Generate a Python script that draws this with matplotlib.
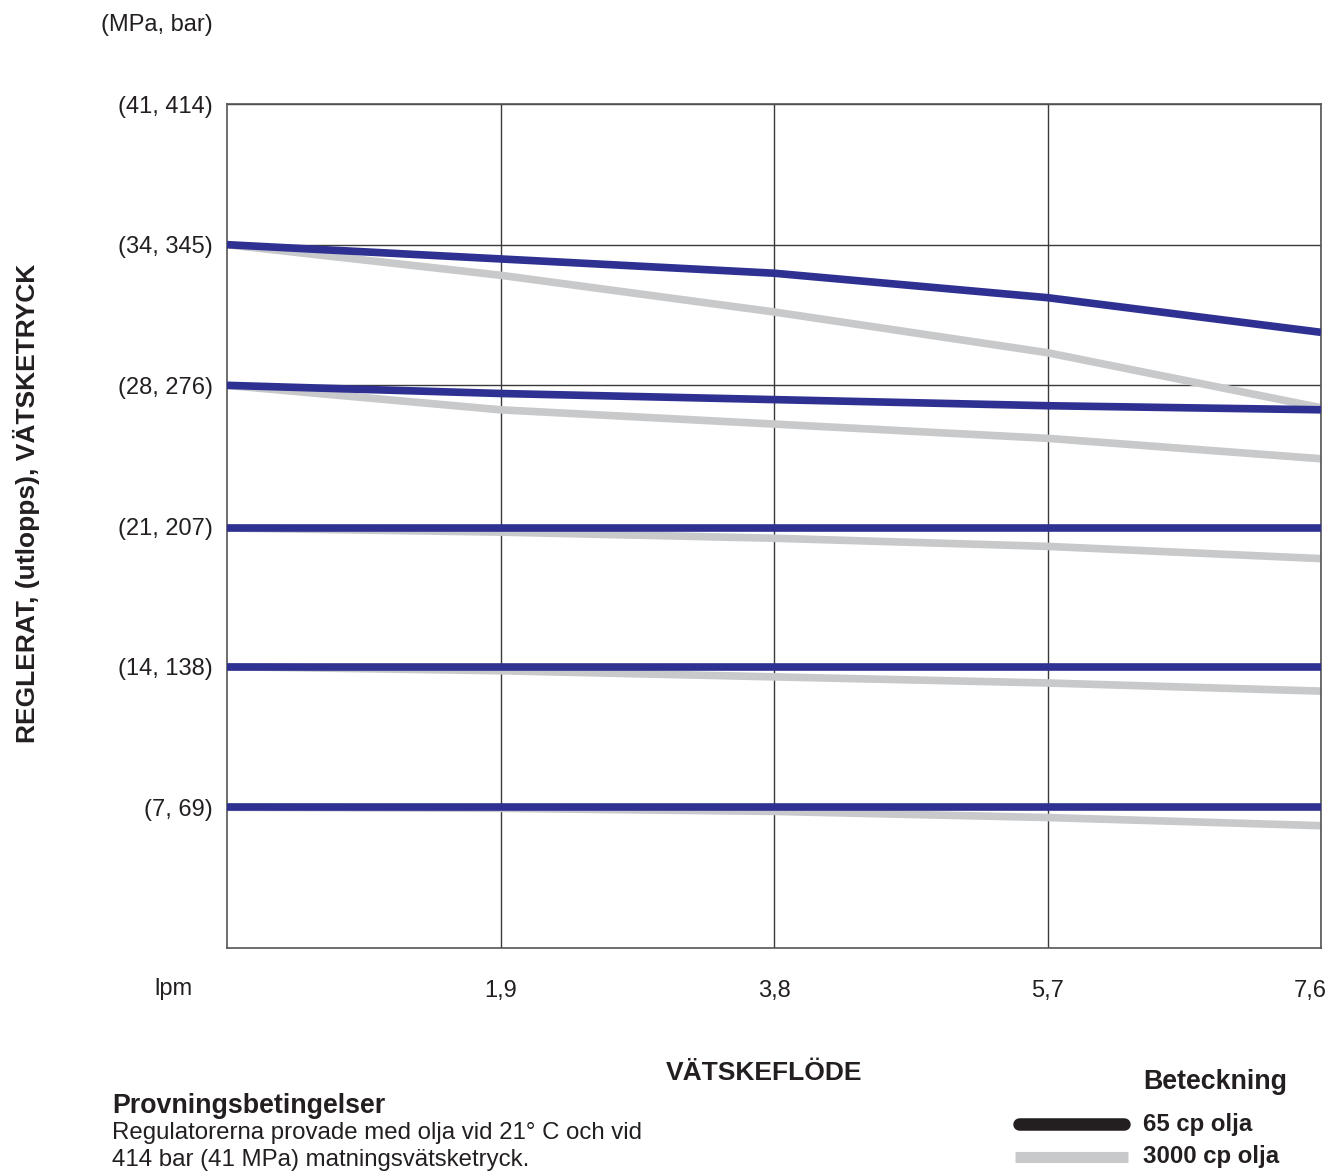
import matplotlib
matplotlib.use('Agg')
import matplotlib.pyplot as plt
from matplotlib.lines import Line2D
from matplotlib.transforms import ScaledTranslation

plt.rcParams['font.family'] = ['Liberation Sans', 'DejaVu Sans']

# flow (lpm)
flow = [0, 1.9, 3.8, 5.7, 7.6]
x_tick_labels = ['1,9', '3,8', '5,7', '7,6']

# pressure ticks (bar) and labels (MPa, bar)
y_ticks = [69, 138, 207, 276, 345, 414]
y_tick_labels = ['(7, 69)', '(14, 138)', '(21, 207)', '(28, 276)', '(34, 345)', '(41, 414)']

# 65 cp oil curves (bar)
oil65 = [
    [345, 338, 331, 319, 302],
    [276, 272, 269, 266, 264],
    [206, 206, 206, 206, 206],
    [138, 138, 138, 138, 138],
    [69, 69, 69, 69, 69],
]

# 3000 cp oil curves (bar)
oil3000 = [
    [345, 330, 312, 292, 265],
    [276, 264, 257, 250, 240],
    [206, 204, 201, 197, 191],
    [138, 136, 133, 130, 126],
    [69, 68.5, 67, 64, 60],
]

blue = '#2E3192'
gray = '#C8C9CB'
dark = '#231F20'

fig = plt.figure(figsize=(13.37, 11.72), dpi=100)
ax = fig.add_axes([227/1337, 1 - 948/1172, (1321-227)/1337, (948-104)/1172])

for ys in oil3000:
    ax.plot(flow, ys, color=gray, lw=5.5, solid_capstyle='butt', zorder=2)
for ys in oil65:
    ax.plot(flow, ys, color=blue, lw=5.5, solid_capstyle='butt', zorder=3)

ax.set_xlim(0, 7.6)
ax.set_ylim(0, 414)
ax.set_xticks(flow[1:])
ax.set_xticklabels(x_tick_labels, fontsize=17, color=dark)
ax.set_yticks(y_ticks)
ax.set_yticklabels(y_tick_labels, fontsize=17, color=dark)
ax.tick_params(length=0)
ax.tick_params(axis='y', pad=10)
ax.tick_params(axis='x', pad=23)
ax.grid(True, color='#3a3a3a', lw=1.0, zorder=1)
ax.set_axisbelow(True)
for s in ax.spines.values():
    s.set_color('#555555')
    s.set_linewidth(1.2)

# shift last x label inward
lbl = ax.get_xticklabels()[-1]
lbl.set_transform(lbl.get_transform() + ScaledTranslation(-0.11, 0, fig.dpi_scale_trans))

fig.text(173/1337, 1 - 989/1172, 'lpm', fontsize=17, color=dark, ha='center', va='center')
fig.text(213/1337, 1 - 25/1172, '(MPa, bar)', fontsize=17, color=dark, ha='right', va='center')
fig.text(27/1337, 1 - 503/1172, 'REGLERAT, (utlopps), VÄTSKETRYCK', fontsize=19, fontweight='bold',
         color=dark, rotation=90, ha='center', va='center')
fig.text(764/1337, 1 - 1073/1172, 'VÄTSKEFLÖDE', fontsize=19, fontweight='bold',
         color=dark, ha='center', va='center')

fig.text(112/1337, 1 - 1106/1172, 'Provningsbetingelser', fontsize=19.3, fontweight='bold',
         color=dark, ha='left', va='center')
fig.text(112/1337, 1 - 1133/1172, 'Regulatorerna provade med olja vid 21° C och vid',
         fontsize=17.3, color=dark, ha='left', va='center')
fig.text(112/1337, 1 - 1160/1172, '414 bar (41 MPa) matningsvätsketryck.',
         fontsize=17.3, color=dark, ha='left', va='center')

# legend
fig.text(1143/1337, 1 - 1082/1172, 'Beteckning', fontsize=19.3, fontweight='bold',
         color=dark, ha='left', va='center')
fig.add_artist(Line2D([1019/1337, 1124/1337], [1 - 1124/1172, 1 - 1124/1172],
                      transform=fig.transFigure, color=dark, lw=9, solid_capstyle='round'))
fig.add_artist(Line2D([1015/1337, 1128/1337], [1 - 1157/1172, 1 - 1157/1172],
                      transform=fig.transFigure, color=gray, lw=8, solid_capstyle='butt'))
fig.text(1143/1337, 1 - 1124/1172, '65 cp olja', fontsize=17.3, fontweight='bold',
         color=dark, ha='left', va='center')
fig.text(1143/1337, 1 - 1156/1172, '3000 cp olja', fontsize=17.3, fontweight='bold',
         color=dark, ha='left', va='center')

fig.savefig('out.png', dpi=100)
plt.close()
